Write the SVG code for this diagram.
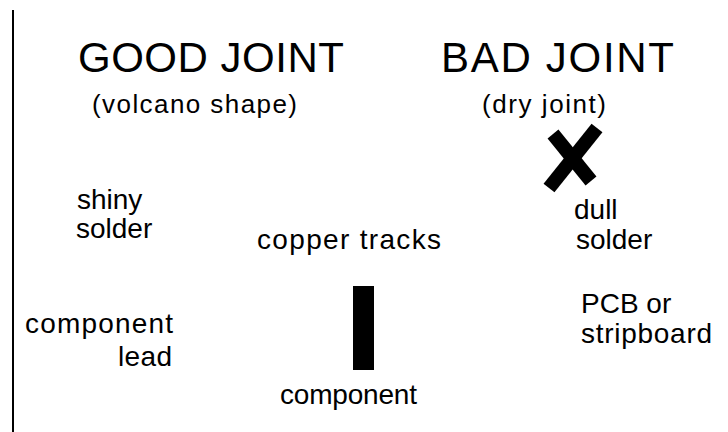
<svg xmlns="http://www.w3.org/2000/svg" width="728" height="432" viewBox="0 0 728 432">
<style>
text{font-family:"Liberation Sans",Arial,Helvetica,sans-serif;fill:#000}
.h{font-size:42px}
.s{font-size:26px}
.l{font-size:28px}
.mark{stroke:#000;stroke-width:14;fill:none}
</style>
<rect width="728" height="432" fill="#fff"/>
<line x1="13" y1="10" x2="13" y2="432" stroke="#000" stroke-width="2"/>
<g id="good-joint">
<text class="h" x="78" y="72" textLength="266" lengthAdjust="spacing">GOOD JOINT</text>
<text class="s" x="92" y="113" textLength="205" lengthAdjust="spacing">(volcano shape)</text>
</g>
<g id="bad-joint">
<text class="h" x="441" y="72" textLength="233" lengthAdjust="spacing">BAD JOINT</text>
<text class="s" x="482" y="113" textLength="124" lengthAdjust="spacing">(dry joint)</text>
</g>
<g id="cross">
<path class="mark" d="M553 134 L591 181"/>
<path class="mark" d="M597 128 L549 188"/>
</g>
<g id="shiny-solder">
<text class="l" x="77" y="209">shiny</text>
<text class="l" x="76" y="238">solder</text>
</g>
<g id="copper-tracks">
<text class="l" x="257" y="249" textLength="184" lengthAdjust="spacing">copper tracks</text>
</g>
<g id="dull-solder">
<text class="l" x="574" y="219">dull</text>
<text class="l" x="576" y="249">solder</text>
</g>
<g id="component-lead">
<text class="l" x="25" y="333" textLength="148" lengthAdjust="spacing">component</text>
<text class="l" x="118" y="366" textLength="54" lengthAdjust="spacing">lead</text>
</g>
<g id="component">
<rect x="353" y="286" width="21" height="84" fill="#000"/>
<text class="l" x="280" y="404" textLength="137" lengthAdjust="spacing">component</text>
</g>
<g id="pcb">
<text class="l" x="581" y="313">PCB or</text>
<text class="l" x="581" y="343" textLength="131" lengthAdjust="spacing">stripboard</text>
</g>
<g id="connectors"/>
</svg>
